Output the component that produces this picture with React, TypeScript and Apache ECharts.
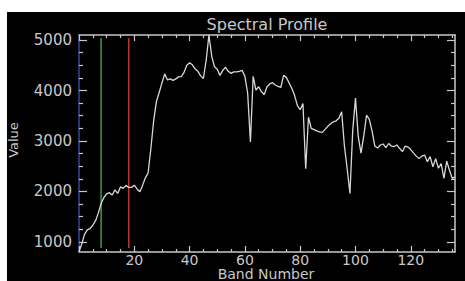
import { useEffect, useRef } from "react";
import * as echarts from "echarts";

// Spectral profile values, one per band (band = index)
const profileValues = [
  810, 960, 1150, 1240, 1265, 1330, 1420, 1575, 1760, 1880,
  1950, 1975, 1930, 2030, 1960, 2090, 2060, 2120, 2080, 2080,
  2125, 2050, 1995, 2120, 2270, 2370, 2850, 3400, 3780, 3960,
  4150, 4330, 4210, 4230, 4200, 4230, 4270, 4275, 4360, 4500,
  4550, 4510, 4430, 4380, 4290, 4240, 4600, 5100, 4680, 4470,
  4420, 4300, 4400, 4460, 4380, 4340, 4370, 4370, 4380, 4400,
  4280, 3950, 2980, 4280, 4010, 4075, 3976, 3920, 4075, 4130,
  4155, 4110, 4080, 4060, 4300, 4260, 4150, 4040, 3900, 3700,
  3620, 3740, 2450, 3470, 3250, 3225, 3200, 3180, 3170, 3230,
  3290, 3340, 3380, 3400, 3450, 3580, 2900, 2450, 1960, 3200,
  3850, 3090, 2760, 3100, 3510, 3430, 3200, 2900, 2860, 2920,
  2940, 2870, 2950, 2900, 2890, 2920, 2850, 2790, 2900, 2880,
  2830, 2760, 2700, 2650, 2700, 2720, 2590, 2690, 2490, 2650,
  2460, 2550, 2260, 2600, 2420, 2260, 2290,
];

const greenBand = 8;
const redBand = 18;
const markerSpan = [880, 5040];

const xRange = [0, 136];
const yRange = [800, 5100];

const xLabelValues = [20, 40, 60, 80, 100, 120];
const xMajorTicks = [0, 20, 40, 60, 80, 100, 120];
const xMinorTicks = [5, 10, 15, 25, 30, 35, 45, 50, 55, 65, 70, 75, 85, 90, 95, 105, 110, 115, 125, 130, 135];
const yLabelValues = [1000, 2000, 3000, 4000, 5000];
const yMajorTicks = [1000, 2000, 3000, 4000, 5000];
const yMinorTicks = [1250, 1500, 1750, 2250, 2500, 2750, 3250, 3500, 3750, 4250, 4500, 4750];

const titleText = "Spectral Profile";
const xName = "Band Number";
const yName = "Value";

const FG = "#c8c8c8";
const FONT = "DejaVu Sans";

export default function App() {
  const ref = useRef<HTMLDivElement>(null);

  useEffect(() => {
    if (!ref.current) return;
    const chart = echarts.init(ref.current, undefined, { renderer: "svg" });

    const plain = (v: number) => String(v);

    const mkX = (position: string, ticks: number[], len: number, line: boolean, labels: boolean) => ({
      type: "value",
      position,
      min: xRange[0],
      max: xRange[1],
      axisLine: { show: line, onZero: false, lineStyle: { color: FG, width: 1.5 } },
      axisTick: { show: true, inside: true, length: len, customValues: ticks, lineStyle: { color: FG, width: 1.2 } },
      axisLabel: labels
        ? { show: true, customValues: xLabelValues, formatter: plain, color: FG, fontSize: 14, fontFamily: FONT, margin: 1, lineHeight: 13 }
        : { show: false },
      splitLine: { show: false },
    });
    const mkY = (position: string, ticks: number[], len: number, line: boolean, labels: boolean, lineColor: string) => ({
      type: "value",
      position,
      min: yRange[0],
      max: yRange[1],
      axisLine: { show: line, onZero: false, lineStyle: { color: lineColor, width: 1.5 } },
      axisTick: { show: true, inside: true, length: len, customValues: ticks, lineStyle: { color: FG, width: 1.2 } },
      axisLabel: labels
        ? { show: true, customValues: yLabelValues, formatter: plain, color: FG, fontSize: 15, fontFamily: FONT, margin: 7 }
        : { show: false },
      splitLine: { show: false },
    });

    chart.setOption({
      animation: false,
      backgroundColor: "#000000",
      grid: { left: 72, right: 10, top: 23, bottom: 29, containLabel: false, outerBoundsMode: "none" },
      xAxis: [
        mkX("bottom", xMajorTicks, 6, true, true),
        mkX("bottom", xMinorTicks, 3, false, false),
        mkX("top", xMajorTicks, 6, true, false),
        mkX("top", xMinorTicks, 3, false, false),
      ],
      yAxis: [
        mkY("left", yMajorTicks, 8, true, true, "#34479a"),
        mkY("left", yMinorTicks, 4, false, false, FG),
        mkY("right", yMajorTicks, 8, true, false, FG),
        mkY("right", yMinorTicks, 4, false, false, FG),
      ],
      graphic: [
        {
          type: "text",
          x: 260,
          y: 12,
          style: { text: titleText, fill: FG, font: `16px '${FONT}'`, align: "center", verticalAlign: "middle" },
        },
        {
          type: "text",
          x: 259,
          y: 268,
          style: { text: xName, fill: FG, font: `14px '${FONT}'`, lineHeight: 13, align: "center", verticalAlign: "bottom" },
        },
        {
          type: "text",
          x: 6,
          y: 128,
          rotation: Math.PI / 2,
          style: { text: yName, fill: FG, font: `13px '${FONT}'`, align: "center", verticalAlign: "middle" },
        },
      ],
      series: [
        {
          type: "line",
          xAxisIndex: 0,
          yAxisIndex: 0,
          data: markerSpan.map((v) => [greenBand, v]),
          showSymbol: false,
          lineStyle: { color: "#3d9c45", width: 1.5 },
          silent: true,
        },
        {
          type: "line",
          xAxisIndex: 0,
          yAxisIndex: 0,
          data: markerSpan.map((v) => [redBand, v]),
          showSymbol: false,
          lineStyle: { color: "#b8392c", width: 1.5 },
          silent: true,
        },
        {
          type: "line",
          xAxisIndex: 0,
          yAxisIndex: 0,
          data: profileValues.map((v, i) => [i, v]),
          showSymbol: false,
          lineStyle: { color: "#d8d8d8", width: 1.3 },
          silent: true,
        },
      ],
    });

    return () => chart.dispose();
  }, []);

  return (
    <div style={{ position: "fixed", left: 0, top: 0, width: 465, height: 281, background: "#ffffff" }}>
      <div ref={ref} style={{ position: "absolute", left: 7, top: 12, width: 458, height: 269 }} />
    </div>
  );
}
